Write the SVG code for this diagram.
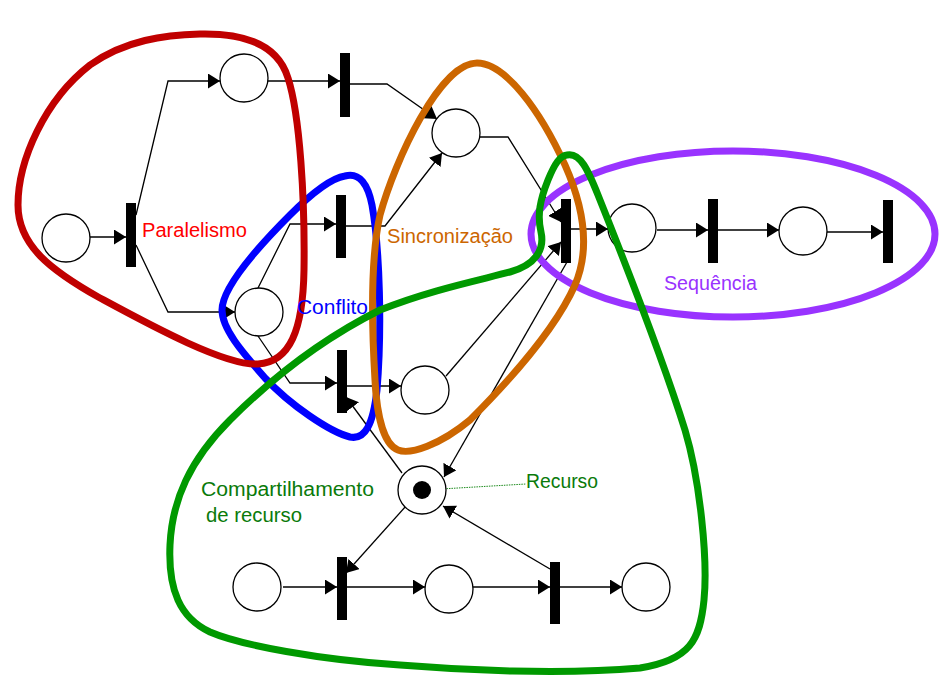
<svg xmlns="http://www.w3.org/2000/svg" width="947" height="682" viewBox="0 0 947 682">
  <style>
    .place { fill: #ffffff; stroke: #000000; stroke-width: 1.3; }
    .trans { fill: #000000; }
    .arc { fill: none; stroke: #000000; stroke-width: 1.3; marker-end: url(#head); }
    .region { fill: none; stroke-width: 7; stroke-linejoin: round; }
    .lbl { font-family: "Liberation Sans", Arial, sans-serif; font-size: 20px; }
  </style>
  <defs>
    <marker id="head" markerUnits="userSpaceOnUse" markerWidth="13" markerHeight="15" refX="12" refY="7.5" orient="auto">
      <path d="M0,0 L12,7.5 L0,15 Z" fill="#000000"/>
    </marker>
  </defs>
  <rect width="947" height="682" fill="#ffffff"/>

  <!-- arcs of the net -->
  <g id="connectors">
    <path class="arc" d="M90,237 H126"/>
    <path class="arc" d="M136,215 L168,81 H220"/>
    <path class="arc" d="M136,245 L168,312 H235"/>
    <path class="arc" d="M268,81 H340"/>
    <path class="arc" d="M350,84 H387 L437,119"/>
    <path class="arc" d="M258,288 L290,224 H336"/>
    <path class="arc" d="M346,226 H385 L442,153"/>
    <path class="arc" d="M258,336 L290,383 H337"/>
    <path class="arc" d="M346,386 H401"/>
    <path class="arc" d="M480,137 H508 L561,222"/>
    <path class="arc" d="M446,376 L561,242"/>
    <path class="arc" d="M567,262 L444,477"/>
    <path class="arc" d="M571,229 H608"/>
    <path class="arc" d="M657,230 H708"/>
    <path class="arc" d="M718,230 H779"/>
    <path class="arc" d="M827,232 H883"/>
    <path class="arc" d="M402,473 L346,397"/>
    <path class="arc" d="M406,506 L346,573"/>
    <path class="arc" d="M550,569 L443,506"/>
    <path class="arc" d="M283,587 H337"/>
    <path class="arc" d="M347,587 H425"/>
    <path class="arc" d="M473,587 H550"/>
    <path class="arc" d="M560,587 H622"/>
    <!-- leader from the token to its label -->
    <path d="M424,490 L526,484" fill="none" stroke="#1a8a1a" stroke-width="1" stroke-dasharray="1.5,1"/>
  </g>

  <!-- places -->
  <g id="p1"><circle class="place" cx="66" cy="238" r="24"/></g>
  <g id="p2"><circle class="place" cx="244" cy="78" r="24"/></g>
  <g id="p3"><circle class="place" cx="259" cy="312" r="24"/></g>
  <g id="p4"><circle class="place" cx="456" cy="133" r="24"/></g>
  <g id="p5"><circle class="place" cx="425" cy="390" r="24"/></g>
  <g id="p6"><circle class="place" cx="422" cy="490" r="24"/><circle cx="422" cy="490" r="9" fill="#000000"/></g>
  <g id="p7"><circle class="place" cx="257" cy="587" r="24"/></g>
  <g id="p8"><circle class="place" cx="449" cy="589" r="24"/></g>
  <g id="p9"><circle class="place" cx="646" cy="587" r="24"/></g>
  <g id="p10"><circle class="place" cx="632" cy="228" r="24"/></g>
  <g id="p11"><circle class="place" cx="803" cy="231" r="24"/></g>

  <!-- transitions -->
  <g id="t1"><rect class="trans" x="126" y="203" width="10" height="64"/></g>
  <g id="t2"><rect class="trans" x="340" y="53" width="10" height="64"/></g>
  <g id="t3"><rect class="trans" x="336" y="195" width="10" height="63"/></g>
  <g id="t4"><rect class="trans" x="337" y="350" width="10" height="63"/></g>
  <g id="t5"><rect class="trans" x="561" y="199" width="10" height="64"/></g>
  <g id="t6"><rect class="trans" x="708" y="199" width="10" height="64"/></g>
  <g id="t7"><rect class="trans" x="883" y="200" width="10" height="63"/></g>
  <g id="t8"><rect class="trans" x="337" y="557" width="10" height="63"/></g>
  <g id="t9"><rect class="trans" x="550" y="562" width="10" height="62"/></g>

  <!-- pattern outlines -->
  <g id="regions">
    <path class="region" stroke="#0000ff" d="M345,176 C360,172 368,185 372,205 C380,250 382,330 377,390 C373,425 365,440 350,437 C330,432 290,405 265,378 C245,355 222,330 222,310 C222,290 250,255 290,215 C315,190 332,178 345,176 Z"/>
    <path class="region" stroke="#c00000" d="M200,34 C245,33 278,45 288,78 C300,115 305,200 304,270 C303,330 290,362 258,364 C225,366 150,325 100,298 C50,270 18,245 18,205 C18,160 45,100 90,65 C125,40 165,35 200,34 Z"/>
    <ellipse class="region" stroke="#9933ff" cx="733" cy="234" rx="202" ry="83"/>
    <path class="region" stroke="#cc6600" d="M477,63 C505,63 540,110 565,165 C585,210 590,250 575,285 C555,330 510,380 470,420 C440,445 410,455 398,450 C385,445 377,420 375,380 C372,330 370,260 380,215 C395,160 440,63 477,63 Z"/>
    <path class="region" stroke="#009900" d="M567,155 C580,152 588,170 598,195 C620,250 660,350 685,430 C700,480 708,560 704,600 C700,640 690,660 640,668 C560,675 460,670 400,665 C320,660 240,645 210,632 C180,618 168,590 170,545 C172,500 190,460 230,420 C270,380 320,340 380,310 C430,290 480,280 510,272 C535,265 545,250 541,232 C537,215 540,200 548,180 C555,163 560,156 567,155 Z"/>
  </g>

  <!-- labels -->
  <g id="labels">
    <text class="lbl" x="142" y="237" fill="#ff0000" textLength="105" lengthAdjust="spacingAndGlyphs">Paralelismo</text>
    <text class="lbl" x="297" y="314" fill="#0000ff" textLength="71" lengthAdjust="spacingAndGlyphs">Conflito</text>
    <text class="lbl" x="387" y="243" fill="#cc6600" textLength="126" lengthAdjust="spacingAndGlyphs">Sincronização</text>
    <text class="lbl" x="664" y="290" fill="#9933ff" textLength="93" lengthAdjust="spacingAndGlyphs">Sequência</text>
    <text class="lbl" x="201" y="496" fill="#0a7a0a" textLength="173" lengthAdjust="spacingAndGlyphs">Compartilhamento</text>
    <text class="lbl" x="206" y="522" fill="#0a7a0a" textLength="96" lengthAdjust="spacingAndGlyphs">de recurso</text>
    <text class="lbl" x="526" y="488" fill="#0a7a0a" textLength="72" lengthAdjust="spacingAndGlyphs">Recurso</text>
  </g>
</svg>
